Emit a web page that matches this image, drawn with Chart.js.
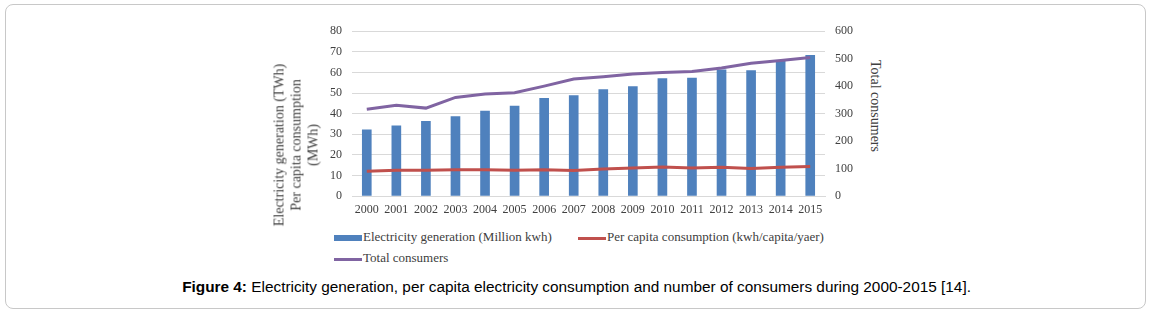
<!DOCTYPE html>
<html>
<head>
<meta charset="utf-8">
<script src="https://cdn.jsdelivr.net/npm/chart.js@4/dist/chart.umd.min.js"></script>
<style>
  body { margin: 0; width: 1153px; height: 315px; background: #fff; position: relative; overflow: hidden; }
  .serif { font-family: "Liberation Serif", "Times New Roman", serif; color: #404040; position: absolute; white-space: nowrap; }
  .marca { display: inline-block; width: 28px; vertical-align: middle; margin-right: 1px; }
</style>
</head>
<body>
<div style="position:absolute; left:5px; top:4px; width:1141px; height:305px; border:1px solid #c8c8c8; border-radius:8px; box-sizing:border-box;"></div>
<div style="position:absolute; left:316px; top:14px; width:544px; height:207px;"><canvas id="myChart1"></canvas></div>
<div class="serif" style="left:296px; top:145px; font-size:14px; line-height:17px; text-align:center; transform:translate(-50%,-50%) rotate(-90deg);">Electricity generation (TWh)<br>Per capita consumption<br>(MWh)</div>
<div class="serif" style="left:875px; top:106px; font-size:14px; transform:translate(-50%,-50%) rotate(90deg);">Total consumers</div>
<div class="serif" style="left:334px; top:228px; font-size:13px; line-height:17px;"><span class="marca" style="height:6px; background:#4f81bd;"></span><span id="leg1"></span></div>
<div class="serif" style="left:578px; top:228px; font-size:13px; line-height:17px;"><span class="marca" style="height:3px; background:#c0504d;"></span><span id="leg2"></span></div>
<div class="serif" style="left:334px; top:249px; font-size:13px; line-height:17px;"><span class="marca" style="height:3px; background:#8064a2;"></span><span id="leg3"></span></div>
<div style="position:absolute; left:0; width:1153px; top:278px; text-align:center;"><span style="display:inline-block; transform:scaleX(1.097); font-family:'Liberation Sans', Arial, sans-serif; font-size:14px; color:#000;"><b>Figure 4:</b> Electricity generation, per capita electricity consumption and number of consumers during 2000-2015 [14].</span></div>
<script>
const anos = ["2000", "2001", "2002", "2003", "2004", "2005", "2006", "2007", "2008", "2009", "2010", "2011", "2012", "2013", "2014", "2015"];
const geracao = [32.1, 34.1, 36.2, 38.5, 41.2, 43.6, 47.4, 48.7, 51.6, 53.1, 57.0, 57.3, 61.2, 60.9, 65.4, 68.3];
const consumoPerCapita = [90, 94, 94, 96, 96, 94, 96, 93, 98, 102, 106, 102, 105, 100, 105, 107];
const totalConsumidores = [316, 330, 320, 359, 371, 376, 400, 426, 434, 444, 450, 453, 466, 483, 493, 504];
const nomes = ["Electricity generation (Million kwh)", "Per capita consumption (kwh/capita/yaer)", "Total consumers"];

document.getElementById("leg1").textContent = nomes[0];
document.getElementById("leg2").textContent = nomes[1];
document.getElementById("leg3").textContent = nomes[2];

const fonte = { family: "'Liberation Serif', 'Times New Roman', serif", size: 12 };

let dados = {
  labels: anos,
  datasets: [
    { type: "bar", label: nomes[0], data: geracao, backgroundColor: "#4f81bd", barThickness: 9, yAxisID: "y", order: 3 },
    { type: "line", label: nomes[1], data: consumoPerCapita, borderColor: "#c0504d", borderWidth: 3, pointRadius: 0, tension: 0, yAxisID: "y1", order: 2 },
    { type: "line", label: nomes[2], data: totalConsumidores, borderColor: "#8064a2", borderWidth: 3, pointRadius: 0, tension: 0, yAxisID: "y1", order: 1 },
  ],
};

const config = {
  data: dados,
  options: {
    responsive: true,
    maintainAspectRatio: false,
    animation: false,
    layout: { padding: { top: 9, left: 0, right: 0, bottom: 0 } },
    plugins: { legend: { display: false }, tooltip: { enabled: false } },
    scales: {
      x: {
        grid: { display: false, drawTicks: false },
        border: { color: "#d9d9d9" },
        ticks: { font: fonte, color: "#404040", padding: 7, maxRotation: 0, autoSkip: false },
        afterFit: (s) => { s.height = 25; },
      },
      y: {
        position: "left", min: 0, max: 80,
        grid: { color: "#d9d9d9", drawTicks: false },
        border: { display: false },
        ticks: { stepSize: 10, font: fonte, color: "#404040", padding: 10 },
        afterFit: (s) => { s.width = 36; },
      },
      y1: {
        position: "right", min: 0, max: 600,
        grid: { display: false, drawTicks: false },
        border: { display: false },
        ticks: { stepSize: 100, font: fonte, color: "#404040", padding: 10 },
        afterFit: (s) => { s.width = 35; },
      },
    },
  },
};

let myChart1 = new Chart(document.getElementById("myChart1"), config);
</script>
</body>
</html>
